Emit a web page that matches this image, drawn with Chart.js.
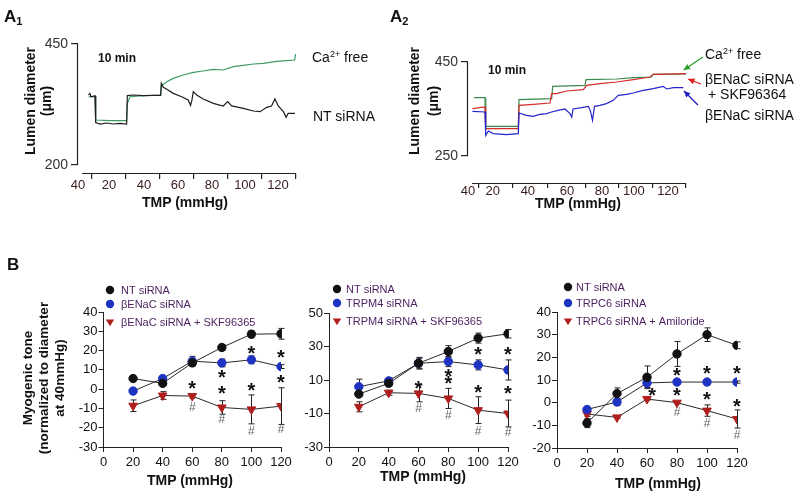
<!DOCTYPE html>
<html>
<head>
<meta charset="utf-8">
<script src="https://cdn.jsdelivr.net/npm/chart.js@4.4.1/dist/chart.umd.min.js"></script>
<style>
body{margin:0;background:#fff;}
#fig{position:relative;width:797px;height:494px;overflow:hidden;font-family:'Liberation Sans',Arial,sans-serif;color:#111;}
#fig canvas{position:absolute;}
.t{position:absolute;white-space:nowrap;line-height:1;}
.panel{font-weight:bold;font-size:17px;}
.panel sub{font-size:11px;vertical-align:-3px;}
.lab{font-size:14px;}
.lab sup{font-size:9px;vertical-align:5px;}
.min{font-size:12px;font-weight:bold;}
.xt{font-size:14px;font-weight:bold;width:140px;text-align:center;transform:translate(-50%,-50%);}
.yt{font-size:14px;font-weight:bold;text-align:center;transform:translate(-50%,-50%) rotate(-90deg);}
</style>
</head>
<body>
<div id="fig">
<canvas id="a1" width="390" height="215" style="left:0;top:0"></canvas>
<canvas id="a2" width="402" height="215" style="left:395px;top:0"></canvas>
<canvas id="b1" width="300" height="244" style="left:0;top:250px"></canvas>
<canvas id="b2" width="260" height="244" style="left:270px;top:250px"></canvas>
<canvas id="b3" width="277" height="244" style="left:520px;top:250px"></canvas>

<div class="t panel" style="left:4px;top:8px">A<sub>1</sub></div>
<div class="t panel" style="left:390px;top:8px">A<sub>2</sub></div>
<div class="t panel" style="left:7px;top:256px">B</div>

<div class="t min" style="left:98px;top:52px">10 min</div>
<div class="t lab" style="left:312px;top:50px">Ca<sup>2+</sup> free</div>
<div class="t lab" style="left:313px;top:109px">NT siRNA</div>
<div class="t yt" style="left:38px;top:101px;line-height:16px">Lumen diameter<br>(μm)</div>
<div class="t xt" style="left:185px;top:202px">TMP (mmHg)</div>

<div class="t min" style="left:488px;top:64px">10 min</div>
<div class="t lab" style="left:705px;top:47px">Ca<sup>2+</sup> free</div>
<div class="t lab" style="left:705px;top:72px">βENaC siRNA</div>
<div class="t lab" style="left:708px;top:87px">+ SKF96364</div>
<div class="t lab" style="left:705px;top:108px">βENaC siRNA</div>
<div class="t yt" style="left:423px;top:101px;line-height:18.5px">Lumen diameter<br>(μm)</div>
<div class="t xt" style="left:578px;top:203px">TMP (mmHg)</div>

<div class="t yt" style="left:44px;top:378px;line-height:16px;font-size:13.5px">Myogenic tone<br>(normalized to diameter<br>at 40mmHg)</div>
<div class="t xt" style="left:190px;top:480px">TMP (mmHg)</div>
<div class="t xt" style="left:423px;top:476px">TMP (mmHg)</div>
<div class="t xt" style="left:658px;top:483px">TMP (mmHg)</div>
</div>

<script>
const SANS = "'Liberation Sans', Arial, sans-serif";
const NARROW = "'Liberation Sans Narrow', 'Arial Narrow', 'Liberation Sans', Arial, sans-serif";

// ---- A panels: diameter traces, x in time units (10 per pressure step)
const tmpStepLabels = ['40', '20', '40', '60', '80', '100', '120'];
const a1TickMarks = [0, 10, 20, 30, 40, 50, 60];
const a1LabelPos = [-4.1, 5, 15.3, 25.3, 35.3, 45, 54.7];
const a2TickMarks = [0, 10, 20.3, 31.5, 41.2, 51.2, 60.9];
const a2LabelPos = [-3.2, 4.1, 14.4, 25.9, 36.2, 45.6, 55.6];

const a1NtX = [-1, -0.6, -0.3, 0.9, 1.1, 2.4, 4.3, 6.3, 8.2, 10.2, 10.4, 12.2, 15.1, 18, 20.2, 20.4, 21, 22, 23.9, 26.4, 28.3, 29, 29.4, 29.8, 30.8, 32.7, 35.7, 38.6, 39.9, 41.1, 44.5, 47.5, 49.4, 51.4, 52.8, 53.8, 54.8, 56.3, 57.1, 57.7, 59.7];
const a1NtY = [344.6, 348, 341, 343, 287.5, 284.7, 286.8, 284.7, 286, 284.7, 343.3, 344.6, 343.3, 344, 344, 368.7, 360.5, 356.3, 348, 341, 334.3, 323.3, 334, 351.5, 344.6, 336.4, 327.4, 322, 331, 322, 317, 311.6, 310.2, 319.2, 322, 336.4, 322, 310.2, 298.5, 306.8, 306.8];
const a1CaX = [-1, 0.9, 1.1, 5.3, 10.2, 10.4, 11.2, 14.1, 20.2, 20.4, 22, 23.9, 26.9, 29.8, 32.7, 35.7, 38.6, 41.6, 44.5, 47.5, 50.4, 54.3, 57.3, 59.6, 59.9];
const a1CaY = [341, 341, 293, 291.6, 291.6, 327.4, 341, 342.6, 344.6, 363.2, 372.2, 379, 386, 391.5, 394.2, 397.7, 396.3, 403.2, 406, 408.7, 410, 414.2, 415.6, 417, 429.3];

const a2CaX = [-1.5, 1.8, 2, 11.6, 11.8, 21.4, 21.7, 31.2, 31.5, 40.5, 45.4, 50.8, 51.1, 60.9];
const a2CaY = [374.1, 374.1, 313.2, 313.2, 369.9, 372, 398.2, 400.4, 412.4, 413.8, 416.7, 418.1, 423.8, 424.5];
const a2SkfX = [-1.9, 1.8, 2, 11.6, 11.8, 16, 20.9, 21.4, 22.8, 25.8, 30.7, 31.7, 35.6, 40.5, 45.4, 50.3, 51.3, 60.9];
const a2SkfY = [350.7, 354.3, 308.2, 308.2, 357.8, 360, 362.8, 382.6, 382.6, 388.3, 391.2, 400.4, 403.9, 407.5, 412.4, 418.1, 423.8, 425.2];
const a2EnacX = [-1.9, 1.8, 2, 2.8, 4.2, 8.1, 11.6, 11.8, 14, 16, 17.9, 19.9, 21.4, 23.3, 25.3, 26.8, 27.3, 27.7, 30.2, 32.2, 32.8, 33.4, 34, 35.6, 37.5, 39.5, 41, 43.4, 45.4, 48.3, 51.3, 54.2, 55.2, 57.2, 60.1];
const a2EnacY = [345, 343.7, 294, 303.2, 297.6, 295.4, 297.6, 341.5, 336.6, 334.4, 338.7, 340.1, 343.7, 347.2, 350, 340.1, 333, 350, 352.9, 355.7, 345.8, 325.9, 355.7, 357.8, 361.4, 368.5, 379.1, 381.2, 384.1, 389.7, 393.3, 398.2, 392.6, 395.4, 395.4];

// ---- B panels: myogenic tone vs TMP
const tmpB = [20, 40, 60, 80, 100, 120];

const b1Nt = [5.5, 3, 13.6, 21.6, 28.5, 28.7];
const b1NtErr = [0.8, 1, 1.5, 1.5, 1.8, 2.8];
const b1Enac = [-1, 5.5, 14.5, 13.6, 15.2, 11.7];
const b1EnacErr = [0.8, 0.8, 2.5, 2, 2, 1];
const b1EnacSkf = [-8.6, -3.3, -3.6, -9.5, -10.5, -8.8];
const b1EnacSkfErr = [3, 2, 1, 3.5, 7.5, 9.5];
const b1Stars = [[60, 2], [80, 8], [80, -0.2], [100, 20.5], [100, 1.2], [120, 18], [120, 5.5]];
const b1Hashes = [[60, -9.5], [80, -15.7], [100, -22], [120, -21.2]];

const b2Nt = [1.6, 8, 20, 27, 35, 37.6];
const b2NtErr = [1, 1.5, 3, 3.5, 3, 2.5];
const b2Trpm4 = [6, 9.5, 20, 21, 19, 16];
const b2Trpm4Err = [4.5, 2, 3.5, 3, 3, 6];
const b2Trpm4Skf = [-6, 2.4, 2, -1, -8, -10];
const b2Trpm4SkfErr = [3, 1.5, 5, 6, 8, 8];
const b2Stars = [[60, 7], [80, 14.4], [80, 10], [100, 27.4], [100, 4.4], [120, 27.4], [120, 4]];
const b2Hashes = [[60, -7], [80, -11.4], [100, -21], [120, -21.6]];

const b3Nt = [-9, 4, 11.2, 21.5, 30, 25.3];
const b3NtErr = [2, 2.5, 5, 5.5, 3, 1.5];
const b3Trpc6 = [-3, 0.3, 8.7, 9.1, 9.1, 9.1];
const b3Trpc6Err = [1, 1.5, 2, 0.5, 0.5, 0.5];
const b3Trpc6Ami = [-5, -6.5, 1.6, 0, -3.5, -7.2];
const b3Trpc6AmiErr = [1, 0.5, 0.5, 0.5, 2.5, 4];
const b3Stars = [[63.4, 4.5], [80, 13.5], [80, 4.5], [100, 14.5], [100, 3], [120, 14.3], [120, 0]];
const b3Hashes = [[80, -4.5], [100, -9.3], [120, -14.5]];

const BLACK = '#111111', BLUE = '#1f33c2', RED = '#b01e1e';

function zip(xs, ys){
    return xs.map((x, i) => ({x: x, y: ys[i]}));
}

// per-canvas decorations, in data units of each chart
const extras = {
    a1: {xLine: [-2.9, 60], yLine: [200, 450]},
    a2: {xLine: [-2, 60.9], yLine: [250, 450], arrows: [
        {from: [65.9, 460.6], to: [60.2, 433], color: '#2aa02a'},
        {from: [65.3, 403.2], to: [61.5, 413.8], color: '#e02020'},
        {from: [64.4, 358.5], to: [60.3, 388.3], color: '#2020c0'}
    ]},
    b1: {stars: b1Stars, hashes: b1Hashes, legend: {dx: 6.5, tx: 11, dy: [-22, -8, 10]}},
    b2: {stars: b2Stars, hashes: b2Hashes, legend: {dx: 8, tx: 9, dy: [-24, -10, 8]}},
    b3: {stars: b3Stars, hashes: b3Hashes, legend: {dx: 11, tx: 8, dy: [-25, -9, 9]}}
};

function drawMarker(ctx, style, color, x, y, r){
    ctx.fillStyle = color;
    ctx.beginPath();
    if(style === 'triangle'){
        ctx.moveTo(x - r, y - r * 0.6);
        ctx.lineTo(x + r, y - r * 0.6);
        ctx.lineTo(x, y + r);
        ctx.closePath();
    } else {
        ctx.arc(x, y, r, 0, Math.PI * 2);
    }
    ctx.fill();
}

const extrasPlugin = {
    id: 'extras',
    beforeDatasetsDraw(chart){
        const ctx = chart.ctx, xs = chart.scales.x, ys = chart.scales.y;
        ctx.save();
        ctx.strokeStyle = '#222';
        ctx.lineWidth = 1;
        chart.data.datasets.forEach(ds => {
            if(!ds.errors) return;
            ds.data.forEach((p, j) => {
                let e = ds.errors[j];
                let x = Math.round(xs.getPixelForValue(p.x)) + 0.5;
                let y1 = ys.getPixelForValue(p.y + e), y2 = ys.getPixelForValue(p.y - e);
                ctx.beginPath();
                ctx.moveTo(x, y1); ctx.lineTo(x, y2);
                ctx.moveTo(x - 3, y1); ctx.lineTo(x + 3, y1);
                ctx.moveTo(x - 3, y2); ctx.lineTo(x + 3, y2);
                ctx.stroke();
            });
        });
        ctx.restore();
    },
    afterDatasetsDraw(chart){
        const o = extras[chart.canvas.id];
        if(!o) return;
        const ctx = chart.ctx, xs = chart.scales.x, ys = chart.scales.y;
        ctx.save();
        ctx.strokeStyle = '#222';
        ctx.lineWidth = 1.2;
        if(o.xLine){
            ctx.beginPath();
            ctx.moveTo(xs.getPixelForValue(o.xLine[0]), xs.top + 0.5);
            ctx.lineTo(xs.getPixelForValue(o.xLine[1]), xs.top + 0.5);
            ctx.stroke();
        }
        if(o.yLine){
            ctx.beginPath();
            ctx.moveTo(ys.right - 0.5, ys.getPixelForValue(o.yLine[0]));
            ctx.lineTo(ys.right - 0.5, ys.getPixelForValue(o.yLine[1]));
            ctx.stroke();
        }
        (o.arrows || []).forEach(a => {
            let x1 = xs.getPixelForValue(a.from[0]), y1 = ys.getPixelForValue(a.from[1]);
            let x2 = xs.getPixelForValue(a.to[0]), y2 = ys.getPixelForValue(a.to[1]);
            let ang = Math.atan2(y2 - y1, x2 - x1);
            ctx.strokeStyle = a.color; ctx.fillStyle = a.color; ctx.lineWidth = 1.3;
            ctx.beginPath(); ctx.moveTo(x1, y1); ctx.lineTo(x2, y2); ctx.stroke();
            ctx.beginPath();
            ctx.moveTo(x2, y2);
            ctx.lineTo(x2 - 7 * Math.cos(ang - 0.45), y2 - 7 * Math.sin(ang - 0.45));
            ctx.lineTo(x2 - 7 * Math.cos(ang + 0.45), y2 - 7 * Math.sin(ang + 0.45));
            ctx.closePath(); ctx.fill();
        });
        ctx.textAlign = 'center';
        ctx.textBaseline = 'middle';
        ctx.fillStyle = '#111';
        ctx.font = 'bold 20px ' + SANS;
        (o.stars || []).forEach(s => {
            ctx.fillText('*', xs.getPixelForValue(s[0]), ys.getPixelForValue(s[1]) + 4.5);
        });
        ctx.fillStyle = '#666';
        ctx.font = '12px ' + NARROW;
        (o.hashes || []).forEach(s => {
            ctx.fillText('#', xs.getPixelForValue(s[0]), ys.getPixelForValue(s[1]));
        });
        if(o.legend){
            const area = chart.chartArea;
            ctx.textAlign = 'left';
            ctx.font = '11px ' + SANS;
            chart.data.datasets.forEach((ds, i) => {
                let mx = area.left + o.legend.dx, my = area.top + o.legend.dy[i];
                drawMarker(ctx, ds.pointStyle, ds.pointBackgroundColor, mx, my, 4.2);
                ctx.fillStyle = '#4b1f5e';
                ctx.fillText(ds.label, mx + o.legend.tx, my + 0.5);
            });
        }
        ctx.restore();
    }
};

function traceChart(id, o){
    return new Chart(document.getElementById(id), {
        type: 'line',
        data: {datasets: o.traces.map(t => ({
            data: zip(t.x, t.y), borderColor: t.color, borderWidth: 1.2,
            pointRadius: 0, tension: 0, fill: false
        }))},
        options: {
            responsive: false, animation: false, events: [],
            layout: {padding: o.padding},
            plugins: {legend: {display: false}, tooltip: {enabled: false}},
            scales: {
                x: {
                    type: 'linear', min: o.xMin, max: o.xMax,
                    afterFit: s => { s.height = o.xHeight; },
                    afterBuildTicks: s => { s.ticks = o.marks.concat(o.labelPos).map(v => ({value: v})); },
                    ticks: {
                        autoSkip: false, maxRotation: 0, minRotation: 0, padding: o.labelPad,
                        color: '#3a1c1c', font: {family: SANS, size: 13},
                        callback: v => { let k = o.labelPos.indexOf(v); return k >= 0 ? tmpStepLabels[k] : ''; }
                    },
                    grid: {
                        drawOnChartArea: false, tickLength: o.tickLen, lineWidth: 1.2,
                        color: c => (c.tick && o.marks.includes(c.tick.value)) ? '#222' : 'rgba(0,0,0,0)'
                    },
                    border: {display: false}
                },
                y: {
                    min: o.yMin, max: o.yMax,
                    afterFit: s => { s.width = o.yWidth; },
                    afterBuildTicks: s => { s.ticks = o.yTicks.map(v => ({value: v})); },
                    ticks: {padding: 3, color: '#333', font: {family: SANS, size: 14}},
                    grid: {drawOnChartArea: false, tickLength: 7, lineWidth: 1.2, color: '#222'},
                    border: {display: false}
                }
            }
        },
        plugins: [extrasPlugin]
    });
}

function groupChart(id, o){
    return new Chart(document.getElementById(id), {
        type: 'line',
        data: {datasets: o.series.map(s => ({
            label: s.label, data: zip(tmpB, s.values), errors: s.errors,
            borderColor: '#2a2a2a', borderWidth: 1, tension: 0, fill: false,
            pointStyle: s.style, pointRotation: s.style === 'triangle' ? 180 : 0,
            pointRadius: s.style === 'triangle' ? 5 : 4.2,
            pointBackgroundColor: s.color, pointBorderColor: s.color, pointBorderWidth: 1
        }))},
        options: {
            responsive: false, animation: false, events: [],
            layout: {padding: o.padding},
            plugins: {legend: {display: false}, tooltip: {enabled: false}},
            scales: {
                x: {
                    type: 'linear', min: 0, max: 120,
                    afterFit: s => { s.height = o.xHeight; },
                    ticks: {stepSize: 20, autoSkip: false, maxRotation: 0, padding: 3, color: '#111', font: {family: NARROW, size: 13}},
                    grid: {drawOnChartArea: false, tickLength: 5, color: '#222'},
                    border: {color: '#222', width: 1}
                },
                y: {
                    min: o.yMin, max: o.yMax,
                    afterFit: s => { s.width = o.yWidth; },
                    ticks: {stepSize: 10, padding: 1, color: '#111', font: {family: NARROW, size: 13}},
                    grid: {drawOnChartArea: false, tickLength: 5, color: '#222'},
                    border: {color: '#222', width: 1}
                }
            }
        },
        plugins: [extrasPlugin]
    });
}

traceChart('a1', {
    traces: [
        {x: a1NtX, y: a1NtY, color: '#1e1e1e'},
        {x: a1CaX, y: a1CaY, color: '#3f9a66'}
    ],
    marks: a1TickMarks, labelPos: a1LabelPos, tickLen: 6, labelPad: -1,
    xMin: -4.1, xMax: 60, yMin: 183.5, yMax: 450, yTicks: [200, 450],
    yWidth: 78, xHeight: 42, padding: {top: 44, right: 94, left: 0, bottom: 0}
});

traceChart('a2', {
    traces: [
        {x: a2EnacX, y: a2EnacY, color: '#2424cc'},
        {x: a2SkfX, y: a2SkfY, color: '#d42e2a'},
        {x: a2CaX, y: a2CaY, color: '#3a8a4c'}
    ],
    marks: a2TickMarks, labelPos: a2LabelPos, tickLen: 5, labelPad: -4,
    xMin: -3.2, xMax: 60.9, yMin: 192.6, yMax: 450, yTicks: [250, 450],
    yWidth: 73, xHeight: 32, padding: {top: 62, right: 111, left: 0, bottom: 0}
});

groupChart('b1', {
    series: [
        {label: 'NT siRNA', values: b1Nt, errors: b1NtErr, color: BLACK, style: 'circle'},
        {label: 'βENaC siRNA', values: b1Enac, errors: b1EnacErr, color: BLUE, style: 'circle'},
        {label: 'βENaC siRNA + SKF96365', values: b1EnacSkf, errors: b1EnacSkfErr, color: RED, style: 'triangle'}
    ],
    yMin: -30, yMax: 40, yWidth: 103.5, xHeight: 47,
    padding: {top: 62, right: 19, left: 0, bottom: 0}
});

groupChart('b2', {
    series: [
        {label: 'NT siRNA', values: b2Nt, errors: b2NtErr, color: BLACK, style: 'circle'},
        {label: 'TRPM4 siRNA', values: b2Trpm4, errors: b2Trpm4Err, color: BLUE, style: 'circle'},
        {label: 'TRPM4 siRNA + SKF96365', values: b2Trpm4Skf, errors: b2Trpm4SkfErr, color: RED, style: 'triangle'}
    ],
    yMin: -30, yMax: 50, yWidth: 59, xHeight: 47,
    padding: {top: 63, right: 22, left: 0, bottom: 0}
});

groupChart('b3', {
    series: [
        {label: 'NT siRNA', values: b3Nt, errors: b3NtErr, color: BLACK, style: 'circle'},
        {label: 'TRPC6 siRNA', values: b3Trpc6, errors: b3Trpc6Err, color: BLUE, style: 'circle'},
        {label: 'TRPC6 siRNA + Amiloride', values: b3Trpc6Ami, errors: b3Trpc6AmiErr, color: RED, style: 'triangle'}
    ],
    yMin: -20, yMax: 40, yWidth: 37, xHeight: 46,
    padding: {top: 62, right: 60, left: 0, bottom: 0}
});
</script>
</body>
</html>
